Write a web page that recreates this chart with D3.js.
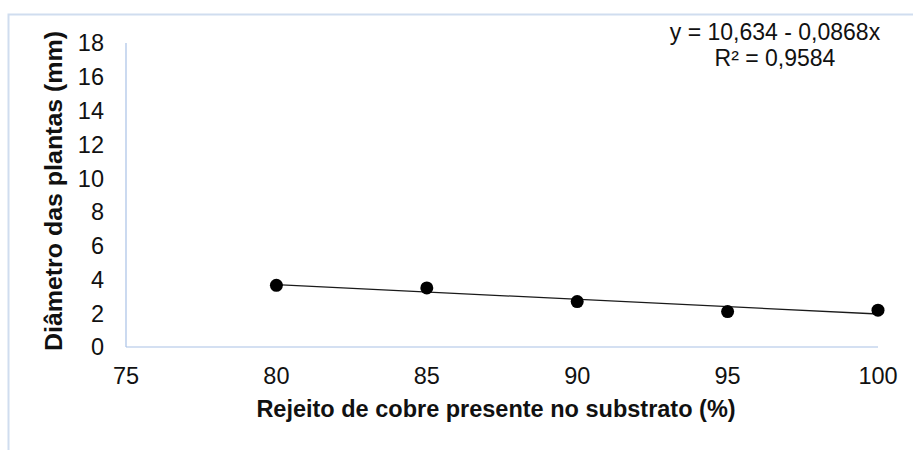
<!DOCTYPE html>
<html>
<head>
<meta charset="utf-8">
<script src="https://cdn.jsdelivr.net/npm/d3@7"></script>
<style>
  body { margin: 0; background: #fff; }
  text { font-family: "Liberation Sans", Arial, sans-serif; fill: #111; }
</style>
</head>
<body>
<div id="chart"></div>
<script>
// percent of copper tailings in the substrate, and mean stem diameter (mm)
const rejeito = [80, 85, 90, 95, 100];
const diametro = [3.65, 3.50, 2.69, 2.10, 2.18];
const xTicks = [75, 80, 85, 90, 95, 100];
const yTicks = [0, 2, 4, 6, 8, 10, 12, 14, 16, 18];
const intercepto = 10.634, inclinacao = -0.0868;
const equacao = "y = 10,634 - 0,0868x";
const r2 = "R² = 0,9584";

const width = 913, height = 450;
const svg = d3.select("#chart").append("svg")
  .attr("width", width)
  .attr("height", height);

// outer chart border (only top and left are visible in the crop)
svg.append("rect")
  .attr("x", 8.5).attr("y", 14.5)
  .attr("width", 1000).attr("height", 1000)
  .attr("fill", "none")
  .attr("stroke", "#d0ddef")
  .attr("stroke-width", 2);

const x = d3.scaleLinear().domain([75, 100]).range([126, 878]);
const y = d3.scaleLinear().domain([0, 18]).range([347, 43]);

// axes lines, no tick marks
svg.append("line")
  .attr("x1", x(75)).attr("x2", x(100))
  .attr("y1", y(0)).attr("y2", y(0))
  .attr("stroke", "#a9c2e6").attr("stroke-width", 1.2);
svg.append("line")
  .attr("x1", x(75)).attr("x2", x(75))
  .attr("y1", y(0)).attr("y2", y(18))
  .attr("stroke", "#a9c2e6").attr("stroke-width", 1.2);

svg.selectAll(".ytick")
  .data(yTicks)
  .join("text")
    .attr("class", "ytick")
    .attr("x", 104)
    .attr("y", d => y(d))
    .attr("dy", "0.36em")
    .attr("text-anchor", "end")
    .style("font-size", "23.5px")
    .text(d => d);

svg.selectAll(".xtick")
  .data(xTicks)
  .join("text")
    .attr("class", "xtick")
    .attr("x", d => x(d))
    .attr("y", 384)
    .attr("text-anchor", "middle")
    .style("font-size", "23.5px")
    .text(d => d);

// trend line from the fitted equation
const linha = d3.line()
  .x(d => x(d))
  .y(d => y(intercepto + inclinacao * d));
svg.append("path")
  .attr("d", linha([80, 100]))
  .attr("fill", "none")
  .attr("stroke", "#1a1a1a")
  .attr("stroke-width", 1.3);

svg.selectAll("circle")
  .data(rejeito)
  .join("circle")
    .attr("cx", d => x(d))
    .attr("cy", (d, i) => y(diametro[i]))
    .attr("r", 6.5)
    .attr("fill", "#000");

svg.append("text")
  .attr("x", 775).attr("y", 40)
  .attr("text-anchor", "middle")
  .style("font-size", "23px")
  .text(equacao);
svg.append("text")
  .attr("x", 775).attr("y", 66)
  .attr("text-anchor", "middle")
  .style("font-size", "23px")
  .text(r2);

svg.append("text")
  .attr("x", 496).attr("y", 417)
  .attr("text-anchor", "middle")
  .style("font-size", "23.5px")
  .style("font-weight", "bold")
  .text("Rejeito de cobre presente no substrato (%)");

svg.append("text")
  .attr("transform", "translate(62,191) rotate(-90)")
  .attr("text-anchor", "middle")
  .attr("textLength", 320)
  .attr("lengthAdjust", "spacingAndGlyphs")
  .style("font-size", "24px")
  .style("font-weight", "bold")
  .text("Diâmetro das plantas (mm)");
</script>
</body>
</html>
